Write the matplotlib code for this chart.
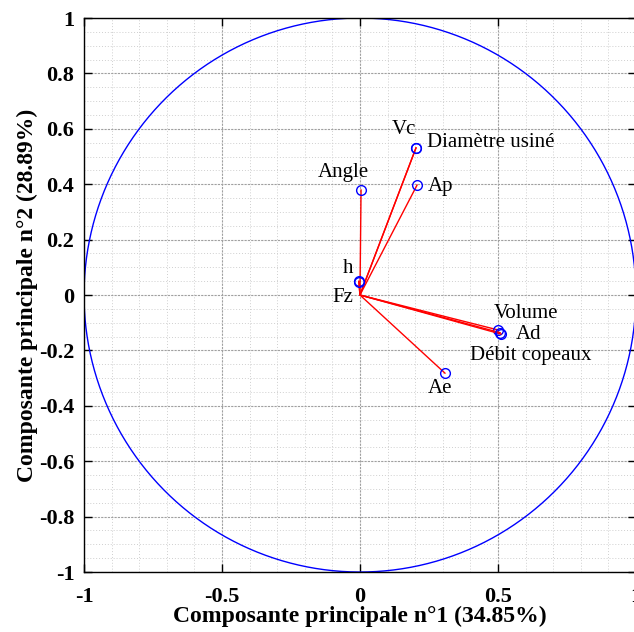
import numpy as np
import matplotlib.pyplot as plt
from matplotlib.ticker import MultipleLocator

# variable coordinates on the correlation circle
names = ["Vc", "Diamètre usiné", "Ap", "Angle", "h", "Fz", "Volume", "Ad", "Débit copeaux", "Ae"]
pc1 = [0.203, 0.203, 0.207, 0.004, -0.004, -0.004, 0.500, 0.511, 0.508, 0.308]
pc2 = [0.531, 0.531, 0.397, 0.379, 0.050, 0.048, -0.126, -0.141, -0.136, -0.282]
var1, var2 = 34.85, 28.89

# label offsets in data units, and alignment
offsets = {
    "Vc": (-0.043, 0.065, "center"),
    "Diamètre usiné": (0.04, 0.018, "left"),
    "Ap": (0.04, -0.004, "left"),
    "Angle": (-0.065, 0.065, "center"),
    "h": (-0.04, 0.047, "center"),
    "Fz": (-0.058, -0.058, "center"),
    "Volume": (-0.015, 0.061, "left"),
    "Ad": (0.054, -0.003, "left"),
    "Débit copeaux": (-0.11, -0.084, "left"),
    "Ae": (-0.018, -0.054, "center"),
}

plt.rcParams['font.family'] = ['Liberation Serif', 'DejaVu Serif']

fig = plt.figure(figsize=(6.34, 6.32), dpi=100)
ax = fig.add_axes([0.1325, 0.0949, 0.8705, 0.8766])

t = np.linspace(0, 2 * np.pi, 400)
ax.plot(np.cos(t), np.sin(t), color='blue', lw=1)

for n, x, y in zip(names, pc1, pc2):
    ax.plot([0, x], [0, y], color='red', lw=1)
    ax.plot(x, y, 'o', mfc='none', mec='blue', ms=7, mew=1)
    dx, dy, ha = offsets[n]
    ax.text(x + dx, y + dy, n, ha=ha, va='center', fontsize=15)

ax.set_xlim(-1, 1)
ax.set_ylim(-1, 1)
ax.xaxis.set_major_locator(MultipleLocator(0.5))
ax.xaxis.set_minor_locator(MultipleLocator(0.1))
ax.yaxis.set_major_locator(MultipleLocator(0.2))
ax.yaxis.set_minor_locator(MultipleLocator(0.05))
ax.grid(which='major', color='#a0a0a0', ls=(0, (2, 1)), lw=0.8)
ax.grid(which='minor', color='#cfcfcf', ls=(0, (1, 2)), lw=0.7)
ax.set_axisbelow(True)
ax.tick_params(which='major', direction='in', top=True, right=True, length=6, labelsize=16, width=1)
ax.tick_params(axis='x', which='major', pad=11)
ax.tick_params(axis='y', which='major', pad=7)
ax.tick_params(which='minor', length=0)
for lab in ax.get_xticklabels() + ax.get_yticklabels():
    lab.set_fontweight('bold')
fmt = plt.FuncFormatter(lambda v, p: f"{round(v, 2):g}" if abs(v) > 1e-9 else "0")
ax.xaxis.set_major_formatter(fmt)
ax.yaxis.set_major_formatter(fmt)
for s in ax.spines.values():
    s.set_linewidth(1)

ax.set_xlabel(f"Composante principale n°1 ({var1}%)", fontsize=17, fontweight='bold', labelpad=-1)
ax.set_ylabel(f"Composante principale n°2 ({var2}%)", fontsize=17, fontweight='bold', labelpad=1)

fig.savefig("out.png", dpi=100)
